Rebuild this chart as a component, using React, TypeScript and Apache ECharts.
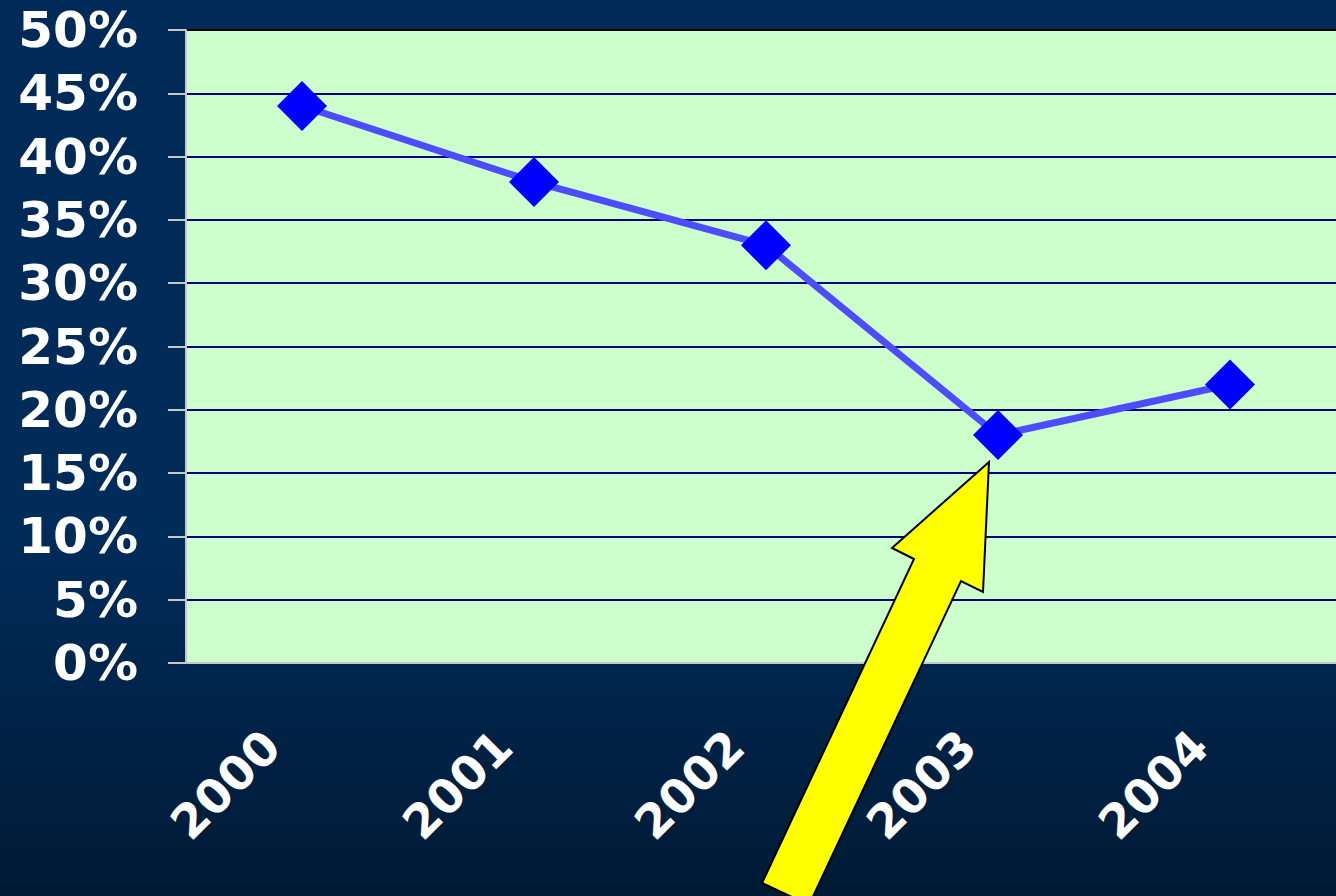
import React, { useEffect, useRef } from "react";
import * as echarts from "echarts";

const years = ["2000", "2001", "2002", "2003", "2004"];
const shares = [44, 38, 33, 18, 22];
const yTicks = { min: 0, max: 50, interval: 5 };
const arrowPoints: number[][] = [
  [989, 462], [983, 592], [961, 581], [809, 905], [762, 883], [914, 559], [892, 548],
];

export default function App() {
  const ref = useRef<HTMLDivElement>(null);
  useEffect(() => {
    document.body.style.margin = "0";
    const chart = echarts.init(ref.current!, null, { renderer: "svg" });
    const font = "DejaVu Sans";
    const gridColors = [
      "#000080", "#000080", "#000080", "#000080", "#000080", "#000080",
      "#000080", "#000080", "#000080", "#000080", "#000000",
    ];
    chart.setOption({
      animation: false,
      backgroundColor: {
        type: "linear", x: 0, y: 0, x2: 0, y2: 1,
        colorStops: [
          { offset: 0, color: "#002a58" },
          { offset: 0.6, color: "#002c5a" },
          { offset: 1, color: "#001a35" },
        ],
      },
      grid: {
        left: 186, top: 30, width: 1160, height: 633,
        containLabel: false, outerBoundsMode: "none",
        show: true, backgroundColor: "#ccffcc", borderColor: "#000000", borderWidth: 2,
      },
      xAxis: {
        type: "category",
        data: years,
        axisLine: { lineStyle: { color: "#c8c8c8", width: 2 } },
        axisTick: { length: 19, lineStyle: { color: "#c8c8c8", width: 2 } },
        axisLabel: {
          rotate: 45, margin: 45, color: "#ffffff", fontFamily: font,
          fontWeight: "bold", fontSize: 47, padding: [0, 43, 0, 0],
        },
      },
      yAxis: {
        type: "value",
        min: yTicks.min, max: yTicks.max, interval: yTicks.interval,
        axisLine: { show: true, lineStyle: { color: "#c8c8c8", width: 2 } },
        axisTick: { show: true, length: 18, lineStyle: { color: "#c8c8c8", width: 2 } },
        splitLine: { lineStyle: { color: gridColors, width: 2 } },
        axisLabel: {
          formatter: "{value}%", margin: 48, color: "#ffffff", fontFamily: font,
          fontWeight: "bold", fontSize: 50,
        },
      },
      series: [
        {
          type: "line",
          data: shares,
          symbol: "diamond",
          symbolSize: 50,
          itemStyle: { color: "#0000ff" },
          lineStyle: { color: "#4d4dff", width: 7 },
        },
      ],
      graphic: [
        {
          type: "polygon",
          z: 100,
          shape: { points: arrowPoints },
          style: { fill: "#ffff00", stroke: "#000000", lineWidth: 2 },
        },
      ],
    });
    return () => chart.dispose();
  }, []);
  return (
    <div
      ref={ref}
      style={{ position: "fixed", left: 0, top: 0, width: 1336, height: 896 }}
    />
  );
}
